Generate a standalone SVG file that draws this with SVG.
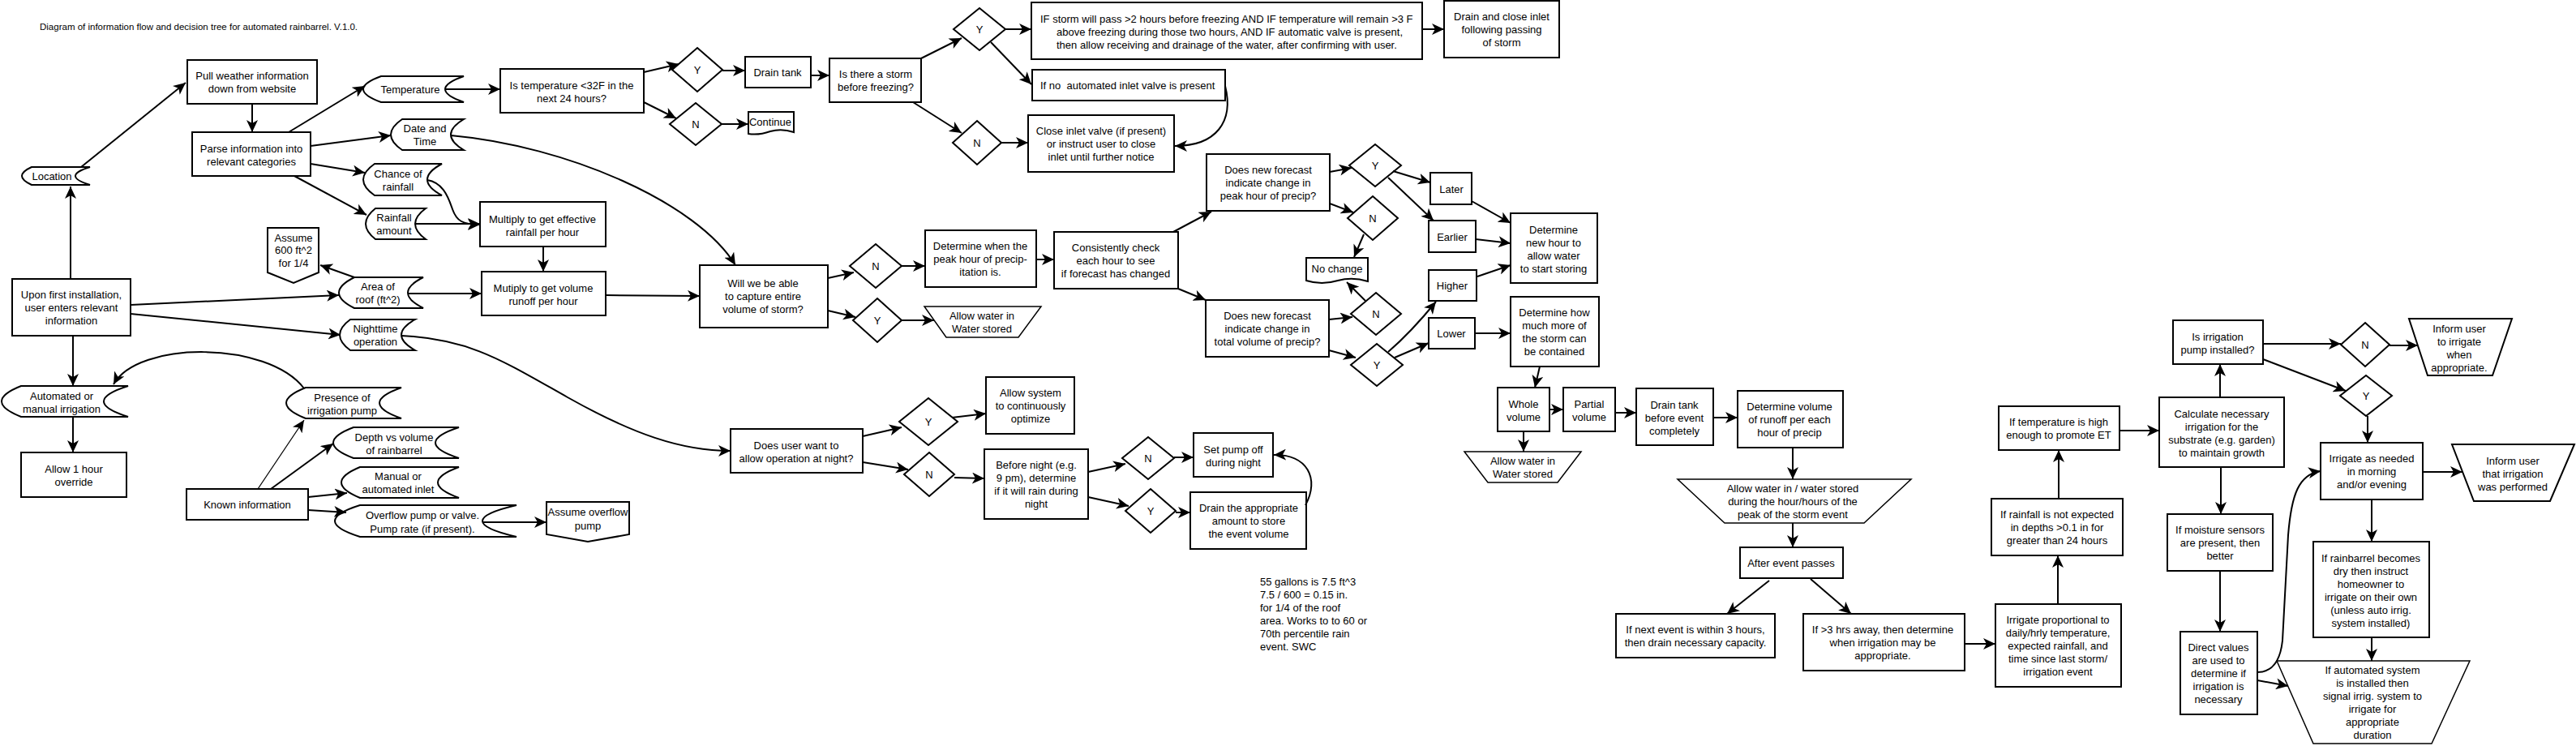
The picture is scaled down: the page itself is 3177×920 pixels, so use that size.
<svg xmlns="http://www.w3.org/2000/svg" width="3177" height="920" viewBox="0 0 3177 920">
<defs>
<marker id="a" markerUnits="userSpaceOnUse" markerWidth="16" markerHeight="14" refX="15" refY="7" orient="auto"><path d="M0,0 L15,7 L0,14 L4,7 Z" fill="#000"/></marker>
</defs>
<style>
.s{fill:#fff;stroke:#000;stroke-width:2}
.th{fill:#fff;stroke:#000;stroke-width:1.5}
text{font-family:"Liberation Sans",Arial,sans-serif;font-size:13px;fill:#000;text-anchor:middle}
.l{text-anchor:start}
.c path{fill:none;stroke:#000;stroke-width:2;marker-end:url(#a)}
.c path.thin{stroke-width:1.3}
</style>
<rect width="3177" height="920" fill="#fff"/>
<g id="title"><text class="l" x="49" y="37" style="font-size:11.5px">Diagram of information flow and decision tree for automated rainbarrel. V.1.0.</text></g>

<g id="location"><path class="s" d="M39,206 L111,206 Q75,217 111,228 L39,228 Q15,217 39,206 Z"/><text x="64" y="222">Location</text></g>
<g id="pull"><rect class="s" x="231" y="74" width="160" height="54"/><text x="311" y="98">Pull weather information<tspan x="311" y="114">down from website</tspan></text></g>
<g id="parse"><rect class="s" x="237" y="163" width="146" height="54"/><text x="310" y="188">Parse information into<tspan x="310" y="204">relevant categories</tspan></text></g>
<g id="upon"><rect class="s" x="15" y="344" width="146" height="70"/><text x="88" y="368">Upon first installation,<tspan x="88" y="384">user enters relevant</tspan><tspan x="88" y="400">information</tspan></text></g>
<g id="temperature"><path class="s" d="M470,94 L572,94 Q526,110 572,126 L470,126 Q426,110 470,94 Z"/><text x="506" y="115">Temperature</text></g>
<g id="datetime"><path class="s" d="M496,147 L572,147 Q540,166 572,185 L496,185 Q468,166 496,147 Z"/><text x="524" y="163">Date and<tspan x="524" y="179">Time</tspan></text></g>
<g id="chance"><path class="s" d="M462,202 L545,202 Q509,221.5 545,241 L462,241 Q434,221.5 462,202 Z"/><text x="491" y="219">Chance of<tspan x="491" y="235">rainfall</tspan></text></g>
<g id="rainfall"><path class="s" d="M463,257 L525,257 Q499,276 525,295 L463,295 Q439,276 463,257 Z"/><text x="486" y="273">Rainfall<tspan x="486" y="289">amount</tspan></text></g>
<g id="assume600"><path class="s" d="M330,281 L393,281 L393,336 L362,349 L330,336 Z"/><text x="362" y="298">Assume<tspan x="362" y="313">600 ft^2</tspan><tspan x="362" y="329">for 1/4</tspan></text></g>
<g id="area"><path class="s" d="M437,342 L522,342 Q484,361 522,380 L437,380 Q399,361 437,342 Z"/><text x="466" y="358">Area of<tspan x="466" y="374">roof (ft^2)</tspan></text></g>
<g id="nighttime"><path class="s" d="M432,394 L512,394 Q478,413 512,432 L432,432 Q406,413 432,394 Z"/><text x="463" y="410">Nighttime<tspan x="463" y="426">operation</tspan></text></g>
<g id="automated"><path class="s" d="M26,476 L158,476 Q98,495 158,514 L26,514 Q-22,495 26,476 Z"/><text x="76" y="493">Automated or<tspan x="76" y="509">manual irrigation</tspan></text></g>
<g id="allow1"><rect class="s" x="26" y="558" width="130" height="55"/><text x="91" y="583">Allow 1 hour<tspan x="91" y="599">override</tspan></text></g>
<g id="presence"><path class="s" d="M377,478 L495,478 Q441,497 495,516 L377,516 Q329,497 377,478 Z"/><text x="422" y="495">Presence of<tspan x="422" y="511">irrigation pump</tspan></text></g>
<g id="known"><rect class="s" x="230" y="603" width="150" height="38"/><text x="305" y="627">Known information</text></g>
<g id="depth"><path class="s" d="M436,527 L566,527 Q508,546 566,565 L436,565 Q386,546 436,527 Z"/><text x="486" y="544">Depth vs volume<tspan x="486" y="560">of rainbarrel</tspan></text></g>
<g id="manual"><path class="s" d="M444,576 L566,576 Q514,595 566,614 L444,614 Q398,595 444,576 Z"/><text x="491" y="592">Manual or<tspan x="491" y="608">automated inlet</tspan></text></g>
<g id="overflow"><path class="s" d="M444,623 L637,623 Q553,642.5 637,662 L444,662 Q382,642.5 444,623 Z"/><text x="521" y="640">Overflow pump or valve.<tspan x="521" y="657">Pump rate (if present).</tspan></text></g>
<g id="assumeoverflow"><path class="s" d="M674,619 L776,619 L776,659 L725,668 L674,659 Z"/><text x="725" y="636">Assume overflow<tspan x="725" y="653">pump</tspan></text></g>

<g id="istemp"><rect class="s" x="617" y="85" width="177" height="54"/><text x="705" y="110">Is temperature &lt;32F in the<tspan x="705" y="126">next 24 hours?</tspan></text></g>
<g id="d1"><polygon class="s" points="860,59 891,86 860,113 829,86"/><text x="860" y="91">Y</text></g>
<g id="d2"><polygon class="s" points="858,127 890,153 858,179 826,153"/><text x="858" y="158">N</text></g>
<g id="draintank"><rect class="s" x="919" y="70" width="81" height="38"/><text x="959" y="94">Drain tank</text></g>
<g id="continue"><path class="s" d="M923,138 L979,138 L979,163 Q964,158 950,162 Q936,167 923,165 Z"/><text x="950" y="155">Continue</text></g>
<g id="isstorm"><rect class="s" x="1023" y="72" width="113" height="54"/><text x="1080" y="96">Is there a storm<tspan x="1080" y="112">before freezing?</tspan></text></g>
<g id="d3"><polygon class="s" points="1208,10 1240,36 1208,62 1176,36"/><text x="1208" y="41">Y</text></g>
<g id="d4"><polygon class="s" points="1205,149 1235,176 1205,203 1175,176"/><text x="1205" y="181">N</text></g>
<g id="ifstorm"><rect class="s" x="1272" y="3" width="482" height="70"/><text class="l" x="1283" y="28">IF storm will pass &gt;2 hours before freezing AND IF temperature will remain &gt;3 F</text><text class="l" x="1303" y="44">above freezing during those two hours, AND IF automatic valve is present,</text><text class="l" x="1303" y="60">then allow receiving and drainage of the water, after confirming with user.</text></g>
<g id="drainclose"><rect class="s" x="1781" y="1" width="142" height="70"/><text x="1852" y="25">Drain and close inlet<tspan x="1852" y="41">following passing</tspan><tspan x="1852" y="57">of storm</tspan></text></g>
<g id="ifno"><rect class="s" x="1273" y="86" width="238" height="38"/><text class="l" x="1283" y="110" style="white-space:pre">If no  automated inlet valve is present</text></g>
<g id="closeinlet"><rect class="s" x="1268" y="142" width="180" height="70"/><text x="1358" y="166">Close inlet valve (if present)<tspan x="1358" y="182">or instruct user to close</tspan><tspan x="1358" y="198">inlet until further notice</tspan></text></g>

<g id="mulrain"><rect class="s" x="592" y="249" width="155" height="55"/><text x="669" y="275">Multiply to get effective<tspan x="669" y="291">rainfall per hour</tspan></text></g>
<g id="mulvol"><rect class="s" x="594" y="335" width="153" height="54"/><text x="670" y="360">Mutiply to get volume<tspan x="670" y="376">runoff per hour</tspan></text></g>
<g id="willwe"><rect class="s" x="863" y="327" width="158" height="77"/><text x="941" y="354">Will we be able<tspan x="941" y="370">to capture entire</tspan><tspan x="941" y="386">volume of storm?</tspan></text></g>
<g id="d5"><polygon class="s" points="1080,301 1112,328 1080,355 1048,328"/><text x="1080" y="333">N</text></g>
<g id="d6"><polygon class="s" points="1082,368 1112,395 1082,422 1052,395"/><text x="1082" y="400">Y</text></g>
<g id="detpeak"><rect class="s" x="1141" y="284" width="137" height="70"/><text x="1209" y="308">Determine when the<tspan x="1209" y="324">peak hour of precip-</tspan><tspan x="1209" y="340">itation is.</tspan></text></g>
<g id="allowwater1"><path class="th" d="M1140,378 L1284,378 L1256,416 L1167,416 Z"/><text x="1211" y="394">Allow water in<tspan x="1211" y="410">Water stored</tspan></text></g>
<g id="consist"><rect class="s" x="1300" y="286" width="153" height="70"/><text x="1376" y="310">Consistently check<tspan x="1376" y="326">each hour to see</tspan><tspan x="1376" y="342">if forecast has changed</tspan></text></g>
<g id="dnfpeak"><rect class="s" x="1488" y="190" width="152" height="70"/><text x="1564" y="214">Does new forecast<tspan x="1564" y="230">indicate change in</tspan><tspan x="1564" y="246">peak hour of precip?</tspan></text></g>
<g id="dnftotal"><rect class="s" x="1487" y="370" width="152" height="70"/><text x="1563" y="394">Does new forecast<tspan x="1563" y="410">indicate change in</tspan><tspan x="1563" y="426">total volume of precip?</tspan></text></g>
<g id="d7"><polygon class="s" points="1696,178 1728,204 1696,230 1664,204"/><text x="1696" y="209">Y</text></g>
<g id="d8"><polygon class="s" points="1693,242 1724,269 1693,296 1662,269"/><text x="1693" y="274">N</text></g>
<g id="d9"><polygon class="s" points="1697,361 1728,387 1697,413 1666,387"/><text x="1697" y="392">N</text></g>
<g id="d10"><polygon class="s" points="1698,424 1730,450 1698,476 1666,450"/><text x="1698" y="455">Y</text></g>
<g id="nochange"><path class="s" d="M1611,318 L1687,318 L1687,347 Q1668,341 1650,346 Q1630,352 1611,346 Z"/><text x="1649" y="336">No change</text></g>
<g id="later"><rect class="s" x="1764" y="213" width="51" height="39"/><text x="1790" y="238">Later</text></g>
<g id="earlier"><rect class="s" x="1762" y="272" width="58" height="39"/><text x="1791" y="297">Earlier</text></g>
<g id="higher"><rect class="s" x="1762" y="333" width="59" height="38"/><text x="1791" y="357">Higher</text></g>
<g id="lower"><rect class="s" x="1762" y="392" width="57" height="38"/><text x="1790" y="416">Lower</text></g>
<g id="detnew"><rect class="s" x="1863" y="263" width="107" height="86"/><text x="1916" y="288">Determine<tspan x="1916" y="304">new hour to</tspan><tspan x="1916" y="320">allow water</tspan><tspan x="1916" y="336">to start storing</tspan></text></g>
<g id="dethow"><rect class="s" x="1863" y="366" width="109" height="86"/><text x="1917" y="390">Determine how<tspan x="1917" y="406">much more of</tspan><tspan x="1917" y="422">the storm can</tspan><tspan x="1917" y="438">be contained</tspan></text></g>
<g id="whole"><rect class="s" x="1847" y="478" width="64" height="54"/><text x="1879" y="503">Whole<tspan x="1879" y="519">volume</tspan></text></g>
<g id="partial"><rect class="s" x="1928" y="478" width="64" height="54"/><text x="1960" y="503">Partial<tspan x="1960" y="519">volume</tspan></text></g>
<g id="allowwater2"><path class="th" d="M1806,557 L1950,557 L1921,595 L1835,595 Z"/><text x="1878" y="573">Allow water in<tspan x="1878" y="589">Water stored</tspan></text></g>
<g id="draintank2"><rect class="s" x="2018" y="479" width="95" height="70"/><text x="2065" y="504">Drain tank<tspan x="2065" y="520">before event</tspan><tspan x="2065" y="536">completely</tspan></text></g>
<g id="detvol"><rect class="s" x="2143" y="482" width="130" height="70"/><text x="2207" y="506">Determine volume<tspan x="2207" y="522">of runoff per each</tspan><tspan x="2207" y="538">hour of precip</tspan></text></g>
<g id="allowpeak"><path class="th" d="M2069,591 L2357,591 L2299,645 L2127,645 Z"/><text x="2211" y="607">Allow water in / water stored<tspan x="2211" y="623">during the hour/hours of the</tspan><tspan x="2211" y="639">peak of the storm event</tspan></text></g>
<g id="after"><rect class="s" x="2146" y="675" width="127" height="38"/><text x="2209" y="699">After event passes</text></g>
<g id="ifnext"><rect class="s" x="1993" y="757" width="196" height="54"/><text x="2091" y="781">If next event is within 3 hours,<tspan x="2091" y="797">then drain necessary capacity.</tspan></text></g>
<g id="ifgt3"><rect class="s" x="2224" y="757" width="199" height="70"/><text x="2322" y="781">If &gt;3 hrs away, then determine<tspan x="2322" y="797">when irrigation may be</tspan><tspan x="2322" y="813">appropriate.</tspan></text></g>
<g id="irrprop"><rect class="s" x="2461" y="745" width="155" height="102"/><text x="2538" y="769">Irrigate proportional to<tspan x="2538" y="785">daily/hrly temperature,</tspan><tspan x="2538" y="801">expected rainfall, and</tspan><tspan x="2538" y="817">time since last storm/</tspan><tspan x="2538" y="833">irrigation event</tspan></text></g>
<g id="ifrain"><rect class="s" x="2456" y="615" width="162" height="70"/><text x="2537" y="639">If rainfall is not expected<tspan x="2537" y="655">in depths &gt;0.1 in for</tspan><tspan x="2537" y="671">greater than 24 hours</tspan></text></g>
<g id="iftemp"><rect class="s" x="2465" y="501" width="149" height="54"/><text x="2539" y="525">If temperature is high<tspan x="2539" y="541">enough to promote ET</tspan></text></g>
<g id="isirr"><rect class="s" x="2680" y="395" width="111" height="54"/><text x="2735" y="420">Is irrigation<tspan x="2735" y="436">pump installed?</tspan></text></g>
<g id="calc"><rect class="s" x="2663" y="490" width="154" height="86"/><text x="2740" y="515">Calculate necessary<tspan x="2740" y="531">irrigation for the</tspan><tspan x="2740" y="547">substrate (e.g. garden)</tspan><tspan x="2740" y="563">to maintain growth</tspan></text></g>
<g id="d15"><polygon class="s" points="2917,398 2947,425 2917,452 2887,425"/><text x="2917" y="430">N</text></g>
<g id="d16"><polygon class="s" points="2918,463 2950,488 2918,513 2886,488"/><text x="2918" y="493">Y</text></g>
<g id="informirr"><path class="s" d="M2971,393 L3098,393 L3074,463 L2994,463 Z"/><text x="3033" y="410">Inform user<tspan x="3033" y="426">to irrigate</tspan><tspan x="3033" y="442">when</tspan><tspan x="3033" y="458">appropriate.</tspan></text></g>
<g id="irrneed"><rect class="s" x="2862" y="546" width="126" height="70"/><text x="2925" y="570">Irrigate as needed<tspan x="2925" y="586">in morning</tspan><tspan x="2925" y="602">and/or evening</tspan></text></g>
<g id="informdone"><path class="s" d="M3024,548 L3175,548 L3145,618 L3051,618 Z"/><text x="3099" y="573">Inform user<tspan x="3099" y="589">that irrigation</tspan><tspan x="3099" y="605">was performed</tspan></text></g>
<g id="ifmoist"><rect class="s" x="2673" y="634" width="130" height="70"/><text x="2738" y="658">If moisture sensors<tspan x="2738" y="674">are present, then</tspan><tspan x="2738" y="690">better</tspan></text></g>
<g id="direct"><rect class="s" x="2689" y="779" width="95" height="102"/><text x="2736" y="803">Direct values<tspan x="2736" y="819">are used to</tspan><tspan x="2736" y="835">determine if</tspan><tspan x="2736" y="851">irrigation is</tspan><tspan x="2736" y="867">necessary</tspan></text></g>
<g id="ifbarrel"><rect class="s" x="2853" y="668" width="143" height="118"/><text x="2924" y="693">If rainbarrel becomes<tspan x="2924" y="709">dry then instruct</tspan><tspan x="2924" y="725">homeowner to</tspan><tspan x="2924" y="741">irrigate on their own</tspan><tspan x="2924" y="757">(unless auto irrig.</tspan><tspan x="2924" y="773">system installed)</tspan></text></g>
<g id="ifauto"><path class="th" d="M2808,815 L3046,815 L2999,917 L2853,917 Z"/><text x="2926" y="831">If automated system<tspan x="2926" y="847">is installed then</tspan><tspan x="2926" y="863">signal irrig. system to</tspan><tspan x="2926" y="879">irrigate for</tspan><tspan x="2926" y="895">appropriate</tspan><tspan x="2926" y="911">duration</tspan></text></g>

<g id="doesuser"><rect class="s" x="901" y="529" width="163" height="54"/><text x="982" y="554">Does user want to<tspan x="982" y="570">allow operation at night?</tspan></text></g>
<g id="d11"><polygon class="s" points="1145,491 1181,520 1145,549 1109,520"/><text x="1145" y="525">Y</text></g>
<g id="d12"><polygon class="s" points="1146,558 1177,585 1146,612 1115,585"/><text x="1146" y="590">N</text></g>
<g id="allowsys"><rect class="s" x="1216" y="465" width="109" height="70"/><text x="1271" y="489">Allow system<tspan x="1271" y="505">to continuously</tspan><tspan x="1271" y="521">optimize</tspan></text></g>
<g id="beforenight"><rect class="s" x="1214" y="554" width="128" height="86"/><text x="1278" y="578">Before night (e.g.<tspan x="1278" y="594">9 pm), determine</tspan><tspan x="1278" y="610">if it will rain during</tspan><tspan x="1278" y="626">night</tspan></text></g>
<g id="d13"><polygon class="s" points="1416,539 1448,565 1416,591 1384,565"/><text x="1416" y="570">N</text></g>
<g id="d14"><polygon class="s" points="1419,603 1450,630 1419,657 1388,630"/><text x="1419" y="635">Y</text></g>
<g id="setpump"><rect class="s" x="1472" y="534" width="98" height="54"/><text x="1521" y="559">Set pump off<tspan x="1521" y="575">during night</tspan></text></g>
<g id="drainappr"><rect class="s" x="1468" y="607" width="143" height="70"/><text x="1540" y="631">Drain the appropriate<tspan x="1540" y="647">amount to store</tspan><tspan x="1540" y="663">the event volume</tspan></text></g>
<g id="note"><text class="l" x="1554" y="722">55 gallons is 7.5 ft^3<tspan x="1554" y="738">7.5 / 600 = 0.15 in.</tspan><tspan x="1554" y="754">for 1/4 of the roof</tspan><tspan x="1554" y="770">area. Works to to 60 or</tspan><tspan x="1554" y="786">70th percentile rain</tspan><tspan x="1554" y="802">event. SWC</tspan></text></g>

<g id="connectors" class="c">
<path d="M87,344 L87,230"/>
<path d="M100,206 L229,102"/>
<path d="M311,128 L311,163"/>
<path d="M356,163 L450,106"/>
<path d="M383,180 L482,167"/>
<path d="M383,202 L450,213"/>
<path d="M363,217 L452,265"/>
<path d="M437,342 L395,327"/>
<path d="M161,376 L418,364"/>
<path d="M161,387 L420,413"/>
<path d="M90,414 L90,476"/>
<path d="M90,514 L90,558"/>
<path d="M375,479 C330,420 170,420 140,474"/>
<path class="thin" d="M318,603 L375,518"/>
<path d="M334,603 L411,547"/>
<path d="M380,613 L428,608"/>
<path d="M380,629 L427,632"/>
<path d="M595,644 L674,644"/>
<path d="M549,110 L617,110"/>
<path d="M794,89 L837,79"/>
<path d="M794,126 L834,146"/>
<path d="M891,87 L919,87"/>
<path d="M890,153 L923,153"/>
<path d="M1000,93 L1023,93"/>
<path d="M1136,72 L1186,47"/>
<path d="M1240,36 L1272,36"/>
<path d="M1754,36 L1781,36"/>
<path d="M1222,52 L1272,104"/>
<path d="M1511,106 C1522,150 1500,180 1449,180"/>
<path d="M1126,126 L1186,164"/>
<path d="M1235,176 L1268,176"/>
<path d="M556,167 C700,180 860,250 907,327"/>
<path d="M527,222 C545,225 552,240 558,258 C563,272 570,277 592,277"/>
<path d="M512,276 L592,276"/>
<path d="M670,304 L670,335"/>
<path d="M503,362 L594,362"/>
<path d="M747,364 L863,365"/>
<path d="M1021,343 L1053,336"/>
<path d="M1021,383 L1055,391"/>
<path d="M1112,328 L1141,328"/>
<path d="M1112,395 L1152,395"/>
<path d="M1278,320 L1300,320"/>
<path d="M1447,286 L1494,261"/>
<path d="M1453,356 L1487,370"/>
<path d="M1640,212 L1667,207"/>
<path d="M1640,251 L1669,262"/>
<path d="M1682,289 L1670,317"/>
<path d="M1718,211 L1764,225"/>
<path d="M1712,219 L1768,272"/>
<path d="M1815,248 L1863,275"/>
<path d="M1820,295 L1863,300"/>
<path d="M1822,341 L1863,327"/>
<path d="M1639,394 L1668,391"/>
<path d="M1684,371 L1661,348"/>
<path d="M1639,432 L1672,441"/>
<path d="M1712,434 Q1740,410 1771,372"/>
<path d="M1720,441 L1762,423"/>
<path d="M1819,411 L1863,411"/>
<path d="M1899,452 L1893,478"/>
<path d="M1911,505 L1928,505"/>
<path d="M1992,509 L2018,509"/>
<path d="M2113,515 L2143,515"/>
<path d="M1879,532 L1879,557"/>
<path d="M2211,552 L2211,591"/>
<path d="M2211,645 L2211,675"/>
<path d="M2182,716 L2130,757"/>
<path d="M2233,714 L2283,757"/>
<path d="M2423,794 L2461,794"/>
<path d="M2538,745 L2538,685"/>
<path d="M2539,615 L2539,555"/>
<path d="M2614,531 L2663,531"/>
<path d="M2738,490 L2738,449"/>
<path d="M2791,424 L2887,424"/>
<path d="M2947,426 L2982,426"/>
<path d="M2791,443 L2893,482"/>
<path d="M2920,513 L2920,546"/>
<path d="M2988,582 L3037,582"/>
<path d="M2739,576 L2739,634"/>
<path d="M2738,704 L2738,779"/>
<path d="M2784,839 L2822,846"/>
<path d="M2784,829 C2800,829 2812,818 2815,790 L2822,660 C2826,610 2835,585 2862,581"/>
<path d="M2925,616 L2925,668"/>
<path d="M2925,786 L2925,815"/>
<path d="M495,414 C580,418 620,445 700,490 S840,556 901,556"/>
<path d="M1064,538 L1112,527"/>
<path d="M1174,515 L1216,510"/>
<path d="M1064,570 L1120,579"/>
<path d="M1177,589 L1214,590"/>
<path d="M1342,582 L1388,572"/>
<path d="M1448,564 L1472,564"/>
<path d="M1342,613 L1392,624"/>
<path d="M1450,632 L1468,632"/>
<path d="M1610,623 C1628,590 1612,560 1571,561"/>
</g>
</svg>
